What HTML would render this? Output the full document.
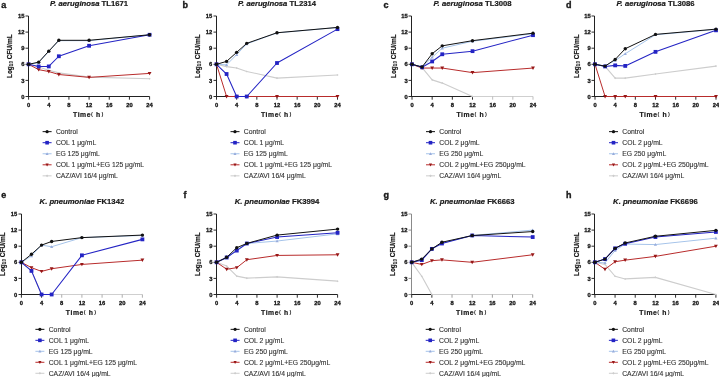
<!DOCTYPE html>
<html><head><meta charset="utf-8"><style>
html,body{margin:0;padding:0;background:#fff;}
body{width:719px;height:377px;overflow:hidden;}
svg{display:block;will-change:transform;}
text{font-family:"Liberation Sans",sans-serif;fill:#1a1a1a;}
.lab{font-size:9px;font-weight:bold;stroke:#111;stroke-width:0.35px;}
.ttl{font-size:7.7px;font-weight:bold;stroke:#111;stroke-width:0.2px;}
.tk{font-size:5.8px;font-weight:bold;stroke:#111;stroke-width:0.3px;}
.xl{font-size:6.8px;font-weight:bold;stroke:#111;stroke-width:0.2px;}
.xp{font-size:5.6px;font-weight:bold;}
.yl{font-size:6.5px;font-weight:bold;stroke:#111;stroke-width:0.2px;}
.lg{font-size:6.8px;fill:#333;stroke:#333;stroke-width:0.12px;}
</style></head><body>
<svg width="719" height="377" viewBox="0 0 719 377">
<g><text x="1.2" y="7.8" class="lab">a</text><text x="89.1" y="5.8" class="ttl" text-anchor="middle"><tspan font-style="italic">P. aeruginosa</tspan> TL1671</text><path d="M28.5 16V97" fill="none" stroke="#222" stroke-width="1.05"/><path d="M28 96.5H149.6" fill="none" stroke="#222" stroke-width="1.05"/><path d="M25.5 96.5H28.5" stroke="#222" stroke-width="0.95"/><text x="24.4" y="98.6" class="tk" text-anchor="end">0</text><path d="M25.5 80.4H28.5" stroke="#222" stroke-width="0.95"/><text x="24.4" y="82.5" class="tk" text-anchor="end">3</text><path d="M25.5 64.3H28.5" stroke="#222" stroke-width="0.95"/><text x="24.4" y="66.4" class="tk" text-anchor="end">6</text><path d="M25.5 48.2H28.5" stroke="#222" stroke-width="0.95"/><text x="24.4" y="50.3" class="tk" text-anchor="end">9</text><path d="M25.5 32.1H28.5" stroke="#222" stroke-width="0.95"/><text x="24.4" y="34.2" class="tk" text-anchor="end">12</text><path d="M25.5 16H28.5" stroke="#222" stroke-width="0.95"/><text x="24.4" y="18.1" class="tk" text-anchor="end">15</text><path d="M28.6 96.5V99.7" stroke="#222" stroke-width="0.95"/><text x="28.6" y="107.1" class="tk" text-anchor="middle">0</text><path d="M48.77 96.5V99.7" stroke="#222" stroke-width="0.95"/><text x="48.77" y="107.1" class="tk" text-anchor="middle">4</text><path d="M68.93 96.5V99.7" stroke="#222" stroke-width="0.95"/><text x="68.93" y="107.1" class="tk" text-anchor="middle">8</text><path d="M89.1 96.5V99.7" stroke="#222" stroke-width="0.95"/><text x="89.1" y="107.1" class="tk" text-anchor="middle">12</text><path d="M109.27 96.5V99.7" stroke="#222" stroke-width="0.95"/><text x="109.27" y="107.1" class="tk" text-anchor="middle">16</text><path d="M129.43 96.5V99.7" stroke="#222" stroke-width="0.95"/><text x="129.43" y="107.1" class="tk" text-anchor="middle">20</text><path d="M149.6 96.5V99.7" stroke="#222" stroke-width="0.95"/><text x="149.6" y="107.1" class="tk" text-anchor="middle">24</text><text x="73" y="116.5" class="xl" letter-spacing="0.6">Time</text><text x="91" y="116.1" class="xp">(</text><text x="96" y="116.5" class="xl">h</text><text x="101.5" y="116.1" class="xp">)</text><text transform="translate(12.3 56.2) rotate(-90)" class="yl" text-anchor="middle">Log<tspan font-size="4.6" dy="1.1" stroke-width="0.1">10</tspan><tspan dy="-1.1"> CFU/mL</tspan></text><path d="M28.6 64.3 L38.68 66.98 L48.77 70.2 L58.85 72.89 L89.1 77.18 L149.6 78.79" fill="none" stroke="#cdcdcd" stroke-width="1.15" stroke-linejoin="round"/><path d="M28.6 63.26L29.64 64.3L28.6 65.34L27.56 64.3Z" fill="#cdcdcd"/><path d="M38.68 65.94L39.72 66.98L38.68 68.02L37.64 66.98Z" fill="#cdcdcd"/><path d="M48.77 69.16L49.81 70.2L48.77 71.24L47.73 70.2Z" fill="#cdcdcd"/><path d="M58.85 71.85L59.89 72.89L58.85 73.93L57.81 72.89Z" fill="#cdcdcd"/><path d="M89.1 76.14L90.14 77.18L89.1 78.22L88.06 77.18Z" fill="#cdcdcd"/><path d="M149.6 77.75L150.64 78.79L149.6 79.83L148.56 78.79Z" fill="#cdcdcd"/><path d="M28.6 64.3 L38.68 69.66 L48.77 71.54 L58.85 74.5 L89.1 77.39 L149.6 73.42" fill="none" stroke="#b82c2c" stroke-width="1.0" stroke-linejoin="round"/><path d="M28.6 66.22L30.52 62.76L26.68 62.76Z" fill="#961616"/><path d="M38.68 71.58L40.6 68.13L36.76 68.13Z" fill="#961616"/><path d="M48.77 73.46L50.69 70.01L46.85 70.01Z" fill="#961616"/><path d="M58.85 76.42L60.77 72.96L56.93 72.96Z" fill="#961616"/><path d="M89.1 79.31L91.02 75.86L87.18 75.86Z" fill="#961616"/><path d="M149.6 75.34L151.52 71.89L147.68 71.89Z" fill="#961616"/><path d="M28.6 64.3 L38.68 62.69 L48.77 51.42 L58.85 40.68 L89.1 40.68 L149.6 34.78" fill="none" stroke="#a6c4ea" stroke-width="1.0" stroke-linejoin="round"/><path d="M28.6 62.7L30.2 65.58L27 65.58Z" fill="#98acdc"/><path d="M38.68 61.09L40.28 63.97L37.08 63.97Z" fill="#98acdc"/><path d="M48.77 49.82L50.37 52.7L47.17 52.7Z" fill="#98acdc"/><path d="M58.85 39.08L60.45 41.96L57.25 41.96Z" fill="#98acdc"/><path d="M89.1 39.08L90.7 41.96L87.5 41.96Z" fill="#98acdc"/><path d="M149.6 33.18L151.2 36.06L148 36.06Z" fill="#98acdc"/><path d="M28.6 64.3 L38.68 66.44 L48.77 66.44 L58.85 56.25 L89.1 45.78 L149.6 34.78" fill="none" stroke="#2424c4" stroke-width="1.05" stroke-linejoin="round"/><rect x="26.7" y="62.4" width="3.8" height="3.8" fill="#2424c4"/><rect x="36.78" y="64.54" width="3.8" height="3.8" fill="#2424c4"/><rect x="46.87" y="64.54" width="3.8" height="3.8" fill="#2424c4"/><rect x="56.95" y="54.35" width="3.8" height="3.8" fill="#2424c4"/><rect x="87.2" y="43.88" width="3.8" height="3.8" fill="#2424c4"/><rect x="147.7" y="32.88" width="3.8" height="3.8" fill="#2424c4"/><path d="M28.6 64.3 L38.68 62.15 L48.77 51.15 L58.85 40.31 L89.1 40.31 L149.6 34.78" fill="none" stroke="#111111" stroke-width="1.0" stroke-linejoin="round"/><circle cx="28.6" cy="64.3" r="1.7" fill="#111111"/><circle cx="38.68" cy="62.15" r="1.7" fill="#111111"/><circle cx="48.77" cy="51.15" r="1.7" fill="#111111"/><circle cx="58.85" cy="40.31" r="1.7" fill="#111111"/><circle cx="89.1" cy="40.31" r="1.7" fill="#111111"/><circle cx="149.6" cy="34.78" r="1.7" fill="#111111"/><path d="M42.6 131.65H51.6" stroke="#111111" stroke-width="1.0"/><circle cx="47.1" cy="131.65" r="1.61" fill="#111111"/><text x="55.9" y="133.95" class="lg">Control</text><path d="M42.6 142.7H51.6" stroke="#2424c4" stroke-width="1.0"/><rect x="45.3" y="140.9" width="3.61" height="3.61" fill="#2424c4"/><text x="55.9" y="145" class="lg">COL 1 μg/mL</text><path d="M42.6 153.75H51.6" stroke="#a6c4ea" stroke-width="1.0"/><path d="M47.1 152.23L48.62 154.97L45.58 154.97Z" fill="#98acdc"/><text x="55.9" y="156.05" class="lg">EG 125 μg/mL</text><path d="M42.6 164.8H51.6" stroke="#b82c2c" stroke-width="1.0"/><path d="M47.1 166.4L48.7 163.52L45.5 163.52Z" fill="#961616"/><text x="55.9" y="167.1" class="lg">COL 1 μg/mL+EG 125 μg/mL</text><path d="M42.6 175.85H51.6" stroke="#cdcdcd" stroke-width="1.0"/><path d="M47.1 174.55L48.4 175.85L47.1 177.15L45.8 175.85Z" fill="#cdcdcd"/><text x="55.9" y="178.15" class="lg">CAZ/AVI 16/4 μg/mL</text></g>
<g><text x="182.6" y="7.8" class="lab">b</text><text x="277" y="5.8" class="ttl" text-anchor="middle"><tspan font-style="italic">P. aeruginosa</tspan> TL2314</text><path d="M216.5 16V97" fill="none" stroke="#222" stroke-width="1.05"/><path d="M216 96.5H337.5" fill="none" stroke="#222" stroke-width="1.05"/><path d="M213.5 96.5H216.5" stroke="#222" stroke-width="0.95"/><text x="212.3" y="98.6" class="tk" text-anchor="end">0</text><path d="M213.5 80.4H216.5" stroke="#222" stroke-width="0.95"/><text x="212.3" y="82.5" class="tk" text-anchor="end">3</text><path d="M213.5 64.3H216.5" stroke="#222" stroke-width="0.95"/><text x="212.3" y="66.4" class="tk" text-anchor="end">6</text><path d="M213.5 48.2H216.5" stroke="#222" stroke-width="0.95"/><text x="212.3" y="50.3" class="tk" text-anchor="end">9</text><path d="M213.5 32.1H216.5" stroke="#222" stroke-width="0.95"/><text x="212.3" y="34.2" class="tk" text-anchor="end">12</text><path d="M213.5 16H216.5" stroke="#222" stroke-width="0.95"/><text x="212.3" y="18.1" class="tk" text-anchor="end">15</text><path d="M216.5 96.5V99.7" stroke="#222" stroke-width="0.95"/><text x="216.5" y="107.1" class="tk" text-anchor="middle">0</text><path d="M236.67 96.5V99.7" stroke="#222" stroke-width="0.95"/><text x="236.67" y="107.1" class="tk" text-anchor="middle">4</text><path d="M256.83 96.5V99.7" stroke="#222" stroke-width="0.95"/><text x="256.83" y="107.1" class="tk" text-anchor="middle">8</text><path d="M277 96.5V99.7" stroke="#222" stroke-width="0.95"/><text x="277" y="107.1" class="tk" text-anchor="middle">12</text><path d="M297.17 96.5V99.7" stroke="#222" stroke-width="0.95"/><text x="297.17" y="107.1" class="tk" text-anchor="middle">16</text><path d="M317.33 96.5V99.7" stroke="#222" stroke-width="0.95"/><text x="317.33" y="107.1" class="tk" text-anchor="middle">20</text><path d="M337.5 96.5V99.7" stroke="#222" stroke-width="0.95"/><text x="337.5" y="107.1" class="tk" text-anchor="middle">24</text><text x="260.9" y="116.5" class="xl" letter-spacing="0.6">Time</text><text x="278.9" y="116.1" class="xp">(</text><text x="283.9" y="116.5" class="xl">h</text><text x="289.4" y="116.1" class="xp">)</text><text transform="translate(200.2 56.2) rotate(-90)" class="yl" text-anchor="middle">Log<tspan font-size="4.6" dy="1.1" stroke-width="0.1">10</tspan><tspan dy="-1.1"> CFU/mL</tspan></text><path d="M216.5 64.3 L226.58 66.61 L236.67 68.05 L246.75 71.44 L277 78.09 L337.5 75.03" fill="none" stroke="#cdcdcd" stroke-width="1.15" stroke-linejoin="round"/><path d="M216.5 63.26L217.54 64.3L216.5 65.34L215.46 64.3Z" fill="#cdcdcd"/><path d="M226.58 65.57L227.62 66.61L226.58 67.65L225.54 66.61Z" fill="#cdcdcd"/><path d="M236.67 67.01L237.71 68.05L236.67 69.09L235.63 68.05Z" fill="#cdcdcd"/><path d="M246.75 70.4L247.79 71.44L246.75 72.48L245.71 71.44Z" fill="#cdcdcd"/><path d="M277 77.05L278.04 78.09L277 79.13L275.96 78.09Z" fill="#cdcdcd"/><path d="M337.5 73.99L338.54 75.03L337.5 76.07L336.46 75.03Z" fill="#cdcdcd"/><path d="M216.5 64.3 L226.58 96.5 L236.67 96.5 L246.75 96.5 L277 96.5 L337.5 96.5" fill="none" stroke="#b82c2c" stroke-width="1.0" stroke-linejoin="round"/><path d="M216.5 66.22L218.42 62.76L214.58 62.76Z" fill="#961616"/><path d="M226.58 98.42L228.5 94.96L224.66 94.96Z" fill="#961616"/><path d="M236.67 98.42L238.59 94.96L234.75 94.96Z" fill="#961616"/><path d="M246.75 98.42L248.67 94.96L244.83 94.96Z" fill="#961616"/><path d="M277 98.42L278.92 94.96L275.08 94.96Z" fill="#961616"/><path d="M337.5 98.42L339.42 94.96L335.58 94.96Z" fill="#961616"/><path d="M216.5 64.3 L226.58 64.83 L236.67 54.64 L246.75 43.9 L277 32.9 L337.5 27.53" fill="none" stroke="#a6c4ea" stroke-width="1.0" stroke-linejoin="round"/><path d="M216.5 62.7L218.1 65.58L214.9 65.58Z" fill="#98acdc"/><path d="M226.58 63.23L228.18 66.11L224.98 66.11Z" fill="#98acdc"/><path d="M236.67 53.04L238.27 55.92L235.07 55.92Z" fill="#98acdc"/><path d="M246.75 42.3L248.35 45.18L245.15 45.18Z" fill="#98acdc"/><path d="M277 31.3L278.6 34.18L275.4 34.18Z" fill="#98acdc"/><path d="M337.5 25.93L339.1 28.81L335.9 28.81Z" fill="#98acdc"/><path d="M216.5 64.3 L226.58 74.01 L236.67 96.5 L246.75 96.5 L277 63.01 L337.5 29.14" fill="none" stroke="#2424c4" stroke-width="1.05" stroke-linejoin="round"/><rect x="214.6" y="62.4" width="3.8" height="3.8" fill="#2424c4"/><rect x="224.68" y="72.11" width="3.8" height="3.8" fill="#2424c4"/><rect x="234.77" y="94.6" width="3.8" height="3.8" fill="#2424c4"/><rect x="244.85" y="94.6" width="3.8" height="3.8" fill="#2424c4"/><rect x="275.1" y="61.11" width="3.8" height="3.8" fill="#2424c4"/><rect x="335.6" y="27.24" width="3.8" height="3.8" fill="#2424c4"/><path d="M216.5 64.3 L226.58 61.4 L236.67 52.33 L246.75 43.37 L277 32.74 L337.5 27.43" fill="none" stroke="#111111" stroke-width="1.0" stroke-linejoin="round"/><circle cx="216.5" cy="64.3" r="1.7" fill="#111111"/><circle cx="226.58" cy="61.4" r="1.7" fill="#111111"/><circle cx="236.67" cy="52.33" r="1.7" fill="#111111"/><circle cx="246.75" cy="43.37" r="1.7" fill="#111111"/><circle cx="277" cy="32.74" r="1.7" fill="#111111"/><circle cx="337.5" cy="27.43" r="1.7" fill="#111111"/><path d="M230.5 131.65H239.5" stroke="#111111" stroke-width="1.0"/><circle cx="235" cy="131.65" r="1.61" fill="#111111"/><text x="243.8" y="133.95" class="lg">Control</text><path d="M230.5 142.7H239.5" stroke="#2424c4" stroke-width="1.0"/><rect x="233.19" y="140.9" width="3.61" height="3.61" fill="#2424c4"/><text x="243.8" y="145" class="lg">COL 1 μg/mL</text><path d="M230.5 153.75H239.5" stroke="#a6c4ea" stroke-width="1.0"/><path d="M235 152.23L236.52 154.97L233.48 154.97Z" fill="#98acdc"/><text x="243.8" y="156.05" class="lg">EG 125 μg/mL</text><path d="M230.5 164.8H239.5" stroke="#b82c2c" stroke-width="1.0"/><path d="M235 166.4L236.6 163.52L233.4 163.52Z" fill="#961616"/><text x="243.8" y="167.1" class="lg">COL 1 μg/mL+EG 125 μg/mL</text><path d="M230.5 175.85H239.5" stroke="#cdcdcd" stroke-width="1.0"/><path d="M235 174.55L236.3 175.85L235 177.15L233.7 175.85Z" fill="#cdcdcd"/><text x="243.8" y="178.15" class="lg">CAZ/AVI 16/4 μg/mL</text></g>
<g><text x="383.5" y="7.8" class="lab">c</text><text x="472.5" y="5.8" class="ttl" text-anchor="middle"><tspan font-style="italic">P. aeruginosa</tspan> TL3008</text><path d="M411.5 16V97" fill="none" stroke="#222" stroke-width="1.05"/><path d="M411 96.5H472.5" fill="none" stroke="#222" stroke-width="1.05"/><path d="M472.5 96.5H533" fill="none" stroke="#cfcfcf" stroke-width="1.05"/><path d="M408.5 96.5H411.5" stroke="#222" stroke-width="0.95"/><text x="407.8" y="98.6" class="tk" text-anchor="end">0</text><path d="M408.5 80.4H411.5" stroke="#222" stroke-width="0.95"/><text x="407.8" y="82.5" class="tk" text-anchor="end">3</text><path d="M408.5 64.3H411.5" stroke="#222" stroke-width="0.95"/><text x="407.8" y="66.4" class="tk" text-anchor="end">6</text><path d="M408.5 48.2H411.5" stroke="#222" stroke-width="0.95"/><text x="407.8" y="50.3" class="tk" text-anchor="end">9</text><path d="M408.5 32.1H411.5" stroke="#222" stroke-width="0.95"/><text x="407.8" y="34.2" class="tk" text-anchor="end">12</text><path d="M408.5 16H411.5" stroke="#222" stroke-width="0.95"/><text x="407.8" y="18.1" class="tk" text-anchor="end">15</text><path d="M412 96.5V99.7" stroke="#222" stroke-width="0.95"/><text x="412" y="107.1" class="tk" text-anchor="middle">0</text><path d="M432.17 96.5V99.7" stroke="#222" stroke-width="0.95"/><text x="432.17" y="107.1" class="tk" text-anchor="middle">4</text><path d="M452.33 96.5V99.7" stroke="#222" stroke-width="0.95"/><text x="452.33" y="107.1" class="tk" text-anchor="middle">8</text><path d="M472.5 96.5V99.7" stroke="#222" stroke-width="0.95"/><text x="472.5" y="107.1" class="tk" text-anchor="middle">12</text><path d="M492.67 96.5V99.7" stroke="#bbbbbb" stroke-width="0.95"/><text x="492.67" y="107.1" class="tk" text-anchor="middle">16</text><path d="M512.83 96.5V99.7" stroke="#bbbbbb" stroke-width="0.95"/><text x="512.83" y="107.1" class="tk" text-anchor="middle">20</text><path d="M533 96.5V99.7" stroke="#bbbbbb" stroke-width="0.95"/><text x="533" y="107.1" class="tk" text-anchor="middle">24</text><text x="456.4" y="116.5" class="xl" letter-spacing="0.6">Time</text><text x="474.4" y="116.1" class="xp">(</text><text x="479.4" y="116.5" class="xl">h</text><text x="484.9" y="116.1" class="xp">)</text><text transform="translate(395.7 56.2) rotate(-90)" class="yl" text-anchor="middle">Log<tspan font-size="4.6" dy="1.1" stroke-width="0.1">10</tspan><tspan dy="-1.1"> CFU/mL</tspan></text><path d="M412 64.3 L422.08 67.52 L432.17 79.86 L442.25 83.08 L472.5 96.5" fill="none" stroke="#cdcdcd" stroke-width="1.15" stroke-linejoin="round"/><path d="M412 63.26L413.04 64.3L412 65.34L410.96 64.3Z" fill="#cdcdcd"/><path d="M422.08 66.48L423.12 67.52L422.08 68.56L421.04 67.52Z" fill="#cdcdcd"/><path d="M432.17 78.82L433.21 79.86L432.17 80.9L431.13 79.86Z" fill="#cdcdcd"/><path d="M442.25 82.04L443.29 83.08L442.25 84.12L441.21 83.08Z" fill="#cdcdcd"/><path d="M472.5 95.46L473.54 96.5L472.5 97.54L471.46 96.5Z" fill="#cdcdcd"/><path d="M412 64.3 L422.08 68.05 L432.17 68.05 L442.25 68.05 L472.5 72.62 L533 68.05" fill="none" stroke="#b82c2c" stroke-width="1.0" stroke-linejoin="round"/><path d="M412 66.22L413.92 62.76L410.08 62.76Z" fill="#961616"/><path d="M422.08 69.97L424 66.52L420.16 66.52Z" fill="#961616"/><path d="M432.17 69.97L434.09 66.52L430.25 66.52Z" fill="#961616"/><path d="M442.25 69.97L444.17 66.52L440.33 66.52Z" fill="#961616"/><path d="M472.5 74.54L474.42 71.08L470.58 71.08Z" fill="#961616"/><path d="M533 69.97L534.92 66.52L531.08 66.52Z" fill="#961616"/><path d="M412 64.3 L422.08 66.98 L432.17 57.32 L442.25 48.2 L472.5 41.22 L533 33.71" fill="none" stroke="#a6c4ea" stroke-width="1.0" stroke-linejoin="round"/><path d="M412 62.7L413.6 65.58L410.4 65.58Z" fill="#98acdc"/><path d="M422.08 65.38L423.68 68.26L420.48 68.26Z" fill="#98acdc"/><path d="M432.17 55.72L433.77 58.6L430.57 58.6Z" fill="#98acdc"/><path d="M442.25 46.6L443.85 49.48L440.65 49.48Z" fill="#98acdc"/><path d="M472.5 39.62L474.1 42.5L470.9 42.5Z" fill="#98acdc"/><path d="M533 32.11L534.6 34.99L531.4 34.99Z" fill="#98acdc"/><path d="M412 64.3 L422.08 67.3 L432.17 61.45 L442.25 54.26 L472.5 51.15 L533 35.16" fill="none" stroke="#2424c4" stroke-width="1.05" stroke-linejoin="round"/><rect x="410.1" y="62.4" width="3.8" height="3.8" fill="#2424c4"/><rect x="420.18" y="65.4" width="3.8" height="3.8" fill="#2424c4"/><rect x="430.27" y="59.55" width="3.8" height="3.8" fill="#2424c4"/><rect x="440.35" y="52.36" width="3.8" height="3.8" fill="#2424c4"/><rect x="470.6" y="49.25" width="3.8" height="3.8" fill="#2424c4"/><rect x="531.1" y="33.26" width="3.8" height="3.8" fill="#2424c4"/><path d="M412 64.3 L422.08 66.98 L432.17 53.73 L442.25 45.84 L472.5 40.68 L533 33.17" fill="none" stroke="#111111" stroke-width="1.0" stroke-linejoin="round"/><circle cx="412" cy="64.3" r="1.7" fill="#111111"/><circle cx="422.08" cy="66.98" r="1.7" fill="#111111"/><circle cx="432.17" cy="53.73" r="1.7" fill="#111111"/><circle cx="442.25" cy="45.84" r="1.7" fill="#111111"/><circle cx="472.5" cy="40.68" r="1.7" fill="#111111"/><circle cx="533" cy="33.17" r="1.7" fill="#111111"/><path d="M426 131.65H435" stroke="#111111" stroke-width="1.0"/><circle cx="430.5" cy="131.65" r="1.61" fill="#111111"/><text x="439.3" y="133.95" class="lg">Control</text><path d="M426 142.7H435" stroke="#2424c4" stroke-width="1.0"/><rect x="428.69" y="140.9" width="3.61" height="3.61" fill="#2424c4"/><text x="439.3" y="145" class="lg">COL 2 μg/mL</text><path d="M426 153.75H435" stroke="#a6c4ea" stroke-width="1.0"/><path d="M430.5 152.23L432.02 154.97L428.98 154.97Z" fill="#98acdc"/><text x="439.3" y="156.05" class="lg">EG 250 μg/mL</text><path d="M426 164.8H435" stroke="#b82c2c" stroke-width="1.0"/><path d="M430.5 166.4L432.1 163.52L428.9 163.52Z" fill="#961616"/><text x="439.3" y="167.1" class="lg">COL 2 μg/mL+EG 250μg/mL</text><path d="M426 175.85H435" stroke="#cdcdcd" stroke-width="1.0"/><path d="M430.5 174.55L431.8 175.85L430.5 177.15L429.2 175.85Z" fill="#cdcdcd"/><text x="439.3" y="178.15" class="lg">CAZ/AVI 16/4 μg/mL</text></g>
<g><text x="566" y="7.8" class="lab">d</text><text x="655.5" y="5.8" class="ttl" text-anchor="middle"><tspan font-style="italic">P. aeruginosa</tspan> TL3086</text><path d="M594.5 16V97" fill="none" stroke="#222" stroke-width="1.05"/><path d="M594 96.5H716" fill="none" stroke="#222" stroke-width="1.05"/><path d="M591.5 96.5H594.5" stroke="#222" stroke-width="0.95"/><text x="590.8" y="98.6" class="tk" text-anchor="end">0</text><path d="M591.5 80.4H594.5" stroke="#222" stroke-width="0.95"/><text x="590.8" y="82.5" class="tk" text-anchor="end">3</text><path d="M591.5 64.3H594.5" stroke="#222" stroke-width="0.95"/><text x="590.8" y="66.4" class="tk" text-anchor="end">6</text><path d="M591.5 48.2H594.5" stroke="#222" stroke-width="0.95"/><text x="590.8" y="50.3" class="tk" text-anchor="end">9</text><path d="M591.5 32.1H594.5" stroke="#222" stroke-width="0.95"/><text x="590.8" y="34.2" class="tk" text-anchor="end">12</text><path d="M591.5 16H594.5" stroke="#222" stroke-width="0.95"/><text x="590.8" y="18.1" class="tk" text-anchor="end">15</text><path d="M595 96.5V99.7" stroke="#222" stroke-width="0.95"/><text x="595" y="107.1" class="tk" text-anchor="middle">0</text><path d="M615.17 96.5V99.7" stroke="#222" stroke-width="0.95"/><text x="615.17" y="107.1" class="tk" text-anchor="middle">4</text><path d="M635.33 96.5V99.7" stroke="#222" stroke-width="0.95"/><text x="635.33" y="107.1" class="tk" text-anchor="middle">8</text><path d="M655.5 96.5V99.7" stroke="#222" stroke-width="0.95"/><text x="655.5" y="107.1" class="tk" text-anchor="middle">12</text><path d="M675.67 96.5V99.7" stroke="#222" stroke-width="0.95"/><text x="675.67" y="107.1" class="tk" text-anchor="middle">16</text><path d="M695.83 96.5V99.7" stroke="#222" stroke-width="0.95"/><text x="695.83" y="107.1" class="tk" text-anchor="middle">20</text><path d="M716 96.5V99.7" stroke="#222" stroke-width="0.95"/><text x="716" y="107.1" class="tk" text-anchor="middle">24</text><text x="639.4" y="116.5" class="xl" letter-spacing="0.6">Time</text><text x="657.4" y="116.1" class="xp">(</text><text x="662.4" y="116.5" class="xl">h</text><text x="667.9" y="116.1" class="xp">)</text><text transform="translate(578.7 56.2) rotate(-90)" class="yl" text-anchor="middle">Log<tspan font-size="4.6" dy="1.1" stroke-width="0.1">10</tspan><tspan dy="-1.1"> CFU/mL</tspan></text><path d="M595 64.3 L605.08 66.44 L615.17 78.09 L625.25 78.09 L655.5 74.01 L716 66.12" fill="none" stroke="#cdcdcd" stroke-width="1.15" stroke-linejoin="round"/><path d="M595 63.26L596.04 64.3L595 65.34L593.96 64.3Z" fill="#cdcdcd"/><path d="M605.08 65.4L606.12 66.44L605.08 67.48L604.04 66.44Z" fill="#cdcdcd"/><path d="M615.17 77.05L616.21 78.09L615.17 79.13L614.13 78.09Z" fill="#cdcdcd"/><path d="M625.25 77.05L626.29 78.09L625.25 79.13L624.21 78.09Z" fill="#cdcdcd"/><path d="M655.5 72.97L656.54 74.01L655.5 75.05L654.46 74.01Z" fill="#cdcdcd"/><path d="M716 65.08L717.04 66.12L716 67.16L714.96 66.12Z" fill="#cdcdcd"/><path d="M595 64.3 L605.08 96.5 L615.17 96.5 L625.25 96.5 L655.5 96.5 L716 96.5" fill="none" stroke="#b82c2c" stroke-width="1.0" stroke-linejoin="round"/><path d="M595 66.22L596.92 62.76L593.08 62.76Z" fill="#961616"/><path d="M605.08 98.42L607 94.96L603.16 94.96Z" fill="#961616"/><path d="M615.17 98.42L617.09 94.96L613.25 94.96Z" fill="#961616"/><path d="M625.25 98.42L627.17 94.96L623.33 94.96Z" fill="#961616"/><path d="M655.5 98.42L657.42 94.96L653.58 94.96Z" fill="#961616"/><path d="M716 98.42L717.92 94.96L714.08 94.96Z" fill="#961616"/><path d="M595 64.3 L605.08 65.91 L615.17 60.54 L625.25 53.73 L655.5 34.78 L716 29.41" fill="none" stroke="#a6c4ea" stroke-width="1.0" stroke-linejoin="round"/><path d="M595 62.7L596.6 65.58L593.4 65.58Z" fill="#98acdc"/><path d="M605.08 64.31L606.68 67.19L603.48 67.19Z" fill="#98acdc"/><path d="M615.17 58.94L616.77 61.82L613.57 61.82Z" fill="#98acdc"/><path d="M625.25 52.13L626.85 55.01L623.65 55.01Z" fill="#98acdc"/><path d="M655.5 33.18L657.1 36.06L653.9 36.06Z" fill="#98acdc"/><path d="M716 27.81L717.6 30.69L714.4 30.69Z" fill="#98acdc"/><path d="M595 64.3 L605.08 66.44 L615.17 65.37 L625.25 65.91 L655.5 51.85 L716 30.32" fill="none" stroke="#2424c4" stroke-width="1.05" stroke-linejoin="round"/><rect x="593.1" y="62.4" width="3.8" height="3.8" fill="#2424c4"/><rect x="603.18" y="64.54" width="3.8" height="3.8" fill="#2424c4"/><rect x="613.27" y="63.47" width="3.8" height="3.8" fill="#2424c4"/><rect x="623.35" y="64.01" width="3.8" height="3.8" fill="#2424c4"/><rect x="653.6" y="49.95" width="3.8" height="3.8" fill="#2424c4"/><rect x="714.1" y="28.42" width="3.8" height="3.8" fill="#2424c4"/><path d="M595 64.3 L605.08 66.12 L615.17 59.47 L625.25 48.73 L655.5 34.4 L716 29.14" fill="none" stroke="#111111" stroke-width="1.0" stroke-linejoin="round"/><circle cx="595" cy="64.3" r="1.7" fill="#111111"/><circle cx="605.08" cy="66.12" r="1.7" fill="#111111"/><circle cx="615.17" cy="59.47" r="1.7" fill="#111111"/><circle cx="625.25" cy="48.73" r="1.7" fill="#111111"/><circle cx="655.5" cy="34.4" r="1.7" fill="#111111"/><circle cx="716" cy="29.14" r="1.7" fill="#111111"/><path d="M609 131.65H618" stroke="#111111" stroke-width="1.0"/><circle cx="613.5" cy="131.65" r="1.61" fill="#111111"/><text x="622.3" y="133.95" class="lg">Control</text><path d="M609 142.7H618" stroke="#2424c4" stroke-width="1.0"/><rect x="611.7" y="140.9" width="3.61" height="3.61" fill="#2424c4"/><text x="622.3" y="145" class="lg">COL 2 μg/mL</text><path d="M609 153.75H618" stroke="#a6c4ea" stroke-width="1.0"/><path d="M613.5 152.23L615.02 154.97L611.98 154.97Z" fill="#98acdc"/><text x="622.3" y="156.05" class="lg">EG 250 μg/mL</text><path d="M609 164.8H618" stroke="#b82c2c" stroke-width="1.0"/><path d="M613.5 166.4L615.1 163.52L611.9 163.52Z" fill="#961616"/><text x="622.3" y="167.1" class="lg">COL 2 μg/mL+EG 250μg/mL</text><path d="M609 175.85H618" stroke="#cdcdcd" stroke-width="1.0"/><path d="M613.5 174.55L614.8 175.85L613.5 177.15L612.2 175.85Z" fill="#cdcdcd"/><text x="622.3" y="178.15" class="lg">CAZ/AVI 16/4 μg/mL</text></g>
<g><text x="1.2" y="197.8" class="lab">e</text><text x="81.9" y="203.8" class="ttl" text-anchor="middle"><tspan font-style="italic">K. pneumoniae</tspan> FK1342</text><path d="M21.5 214V295" fill="none" stroke="#222" stroke-width="1.05"/><path d="M21 294.5H52.66" fill="none" stroke="#222" stroke-width="1.05"/><path d="M52.66 294.5H142.4" fill="none" stroke="#cfcfcf" stroke-width="1.05"/><path d="M18.5 294.5H21.5" stroke="#222" stroke-width="0.95"/><text x="17.2" y="296.6" class="tk" text-anchor="end">0</text><path d="M18.5 278.4H21.5" stroke="#222" stroke-width="0.95"/><text x="17.2" y="280.5" class="tk" text-anchor="end">3</text><path d="M18.5 262.3H21.5" stroke="#222" stroke-width="0.95"/><text x="17.2" y="264.4" class="tk" text-anchor="end">6</text><path d="M18.5 246.2H21.5" stroke="#222" stroke-width="0.95"/><text x="17.2" y="248.3" class="tk" text-anchor="end">9</text><path d="M18.5 230.1H21.5" stroke="#222" stroke-width="0.95"/><text x="17.2" y="232.2" class="tk" text-anchor="end">12</text><path d="M18.5 214H21.5" stroke="#222" stroke-width="0.95"/><text x="17.2" y="216.09" class="tk" text-anchor="end">15</text><path d="M21.4 294.5V297.7" stroke="#222" stroke-width="0.95"/><text x="21.4" y="304.9" class="tk" text-anchor="middle">0</text><path d="M41.57 294.5V297.7" stroke="#222" stroke-width="0.95"/><text x="41.57" y="304.9" class="tk" text-anchor="middle">4</text><path d="M61.73 294.5V297.7" stroke="#aaaaaa" stroke-width="0.95"/><text x="61.73" y="304.9" class="tk" text-anchor="middle">8</text><path d="M81.9 294.5V297.7" stroke="#aaaaaa" stroke-width="0.95"/><text x="81.9" y="304.9" class="tk" text-anchor="middle">12</text><path d="M102.07 294.5V297.7" stroke="#aaaaaa" stroke-width="0.95"/><text x="102.07" y="304.9" class="tk" text-anchor="middle">16</text><path d="M122.23 294.5V297.7" stroke="#aaaaaa" stroke-width="0.95"/><text x="122.23" y="304.9" class="tk" text-anchor="middle">20</text><path d="M142.4 294.5V297.7" stroke="#aaaaaa" stroke-width="0.95"/><text x="142.4" y="304.9" class="tk" text-anchor="middle">24</text><text x="65.8" y="314.5" class="xl" letter-spacing="0.6">Time</text><text x="83.8" y="314.1" class="xp">(</text><text x="88.8" y="314.5" class="xl">h</text><text x="94.3" y="314.1" class="xp">)</text><text transform="translate(5.1 254.2) rotate(-90)" class="yl" text-anchor="middle">Log<tspan font-size="4.6" dy="1.1" stroke-width="0.1">10</tspan><tspan dy="-1.1"> CFU/mL</tspan></text><path d="M21.4 262.3 L31.48 270.89 L41.57 294.5 L51.65 294.5" fill="none" stroke="#cdcdcd" stroke-width="1.15" stroke-linejoin="round"/><path d="M21.4 261.26L22.44 262.3L21.4 263.34L20.36 262.3Z" fill="#cdcdcd"/><path d="M31.48 269.85L32.52 270.89L31.48 271.93L30.44 270.89Z" fill="#cdcdcd"/><path d="M41.57 293.46L42.61 294.5L41.57 295.54L40.53 294.5Z" fill="#cdcdcd"/><path d="M51.65 293.46L52.69 294.5L51.65 295.54L50.61 294.5Z" fill="#cdcdcd"/><path d="M21.4 262.3 L31.48 267.67 L41.57 271.42 L51.65 268.74 L81.9 264.44 L142.4 260.15" fill="none" stroke="#b82c2c" stroke-width="1.0" stroke-linejoin="round"/><path d="M21.4 264.22L23.32 260.76L19.48 260.76Z" fill="#961616"/><path d="M31.48 269.59L33.4 266.13L29.56 266.13Z" fill="#961616"/><path d="M41.57 273.34L43.49 269.89L39.65 269.89Z" fill="#961616"/><path d="M51.65 270.66L53.57 267.2L49.73 267.2Z" fill="#961616"/><path d="M81.9 266.36L83.82 262.91L79.98 262.91Z" fill="#961616"/><path d="M142.4 262.07L144.32 258.62L140.48 258.62Z" fill="#961616"/><path d="M21.4 262.3 L31.48 255.86 L41.57 245.12 L51.65 246.73 L81.9 237.61 L142.4 235.46" fill="none" stroke="#a6c4ea" stroke-width="1.0" stroke-linejoin="round"/><path d="M21.4 260.7L23 263.58L19.8 263.58Z" fill="#98acdc"/><path d="M31.48 254.26L33.08 257.14L29.88 257.14Z" fill="#98acdc"/><path d="M41.57 243.52L43.17 246.4L39.97 246.4Z" fill="#98acdc"/><path d="M51.65 245.13L53.25 248.01L50.05 248.01Z" fill="#98acdc"/><path d="M81.9 236.01L83.5 238.89L80.3 238.89Z" fill="#98acdc"/><path d="M142.4 233.86L144 236.74L140.8 236.74Z" fill="#98acdc"/><path d="M21.4 262.3 L31.48 270.89 L41.57 294.5 L51.65 294.5 L81.9 255.32 L142.4 239.38" fill="none" stroke="#2424c4" stroke-width="1.05" stroke-linejoin="round"/><rect x="19.5" y="260.4" width="3.8" height="3.8" fill="#2424c4"/><rect x="29.58" y="268.99" width="3.8" height="3.8" fill="#2424c4"/><rect x="39.67" y="292.6" width="3.8" height="3.8" fill="#2424c4"/><rect x="49.75" y="292.6" width="3.8" height="3.8" fill="#2424c4"/><rect x="80" y="253.42" width="3.8" height="3.8" fill="#2424c4"/><rect x="140.5" y="237.48" width="3.8" height="3.8" fill="#2424c4"/><path d="M21.4 262.3 L31.48 254.25 L41.57 245.12 L51.65 241.47 L81.9 237.61 L142.4 235.09" fill="none" stroke="#111111" stroke-width="1.0" stroke-linejoin="round"/><circle cx="21.4" cy="262.3" r="1.7" fill="#111111"/><circle cx="31.48" cy="254.25" r="1.7" fill="#111111"/><circle cx="41.57" cy="245.12" r="1.7" fill="#111111"/><circle cx="51.65" cy="241.47" r="1.7" fill="#111111"/><circle cx="81.9" cy="237.61" r="1.7" fill="#111111"/><circle cx="142.4" cy="235.09" r="1.7" fill="#111111"/><path d="M35.4 329.35H44.4" stroke="#111111" stroke-width="1.0"/><circle cx="39.9" cy="329.35" r="1.61" fill="#111111"/><text x="48.7" y="331.65" class="lg">Control</text><path d="M35.4 340.33H44.4" stroke="#2424c4" stroke-width="1.0"/><rect x="38.09" y="338.53" width="3.61" height="3.61" fill="#2424c4"/><text x="48.7" y="342.63" class="lg">COL 1 μg/mL</text><path d="M35.4 351.31H44.4" stroke="#a6c4ea" stroke-width="1.0"/><path d="M39.9 349.79L41.42 352.53L38.38 352.53Z" fill="#98acdc"/><text x="48.7" y="353.61" class="lg">EG 125 μg/mL</text><path d="M35.4 362.29H44.4" stroke="#b82c2c" stroke-width="1.0"/><path d="M39.9 363.89L41.5 361.01L38.3 361.01Z" fill="#961616"/><text x="48.7" y="364.59" class="lg">COL 1 μg/mL+EG 125 μg/mL</text><path d="M35.4 373.27H44.4" stroke="#cdcdcd" stroke-width="1.0"/><path d="M39.9 371.97L41.2 373.27L39.9 374.57L38.6 373.27Z" fill="#cdcdcd"/><text x="48.7" y="375.57" class="lg">CAZ/AVI 16/4 μg/mL</text></g>
<g><text x="183.5" y="197.8" class="lab">f</text><text x="277.1" y="203.8" class="ttl" text-anchor="middle"><tspan font-style="italic">K. pneumoniae</tspan> FK3994</text><path d="M216.5 214V295" fill="none" stroke="#222" stroke-width="1.05"/><path d="M216 294.5H337.6" fill="none" stroke="#222" stroke-width="1.05"/><path d="M213.5 294.5H216.5" stroke="#222" stroke-width="0.95"/><text x="212.4" y="296.6" class="tk" text-anchor="end">0</text><path d="M213.5 278.4H216.5" stroke="#222" stroke-width="0.95"/><text x="212.4" y="280.5" class="tk" text-anchor="end">3</text><path d="M213.5 262.3H216.5" stroke="#222" stroke-width="0.95"/><text x="212.4" y="264.4" class="tk" text-anchor="end">6</text><path d="M213.5 246.2H216.5" stroke="#222" stroke-width="0.95"/><text x="212.4" y="248.3" class="tk" text-anchor="end">9</text><path d="M213.5 230.1H216.5" stroke="#222" stroke-width="0.95"/><text x="212.4" y="232.2" class="tk" text-anchor="end">12</text><path d="M213.5 214H216.5" stroke="#222" stroke-width="0.95"/><text x="212.4" y="216.09" class="tk" text-anchor="end">15</text><path d="M216.6 294.5V297.7" stroke="#222" stroke-width="0.95"/><text x="216.6" y="304.9" class="tk" text-anchor="middle">0</text><path d="M236.77 294.5V297.7" stroke="#222" stroke-width="0.95"/><text x="236.77" y="304.9" class="tk" text-anchor="middle">4</text><path d="M256.93 294.5V297.7" stroke="#222" stroke-width="0.95"/><text x="256.93" y="304.9" class="tk" text-anchor="middle">8</text><path d="M277.1 294.5V297.7" stroke="#222" stroke-width="0.95"/><text x="277.1" y="304.9" class="tk" text-anchor="middle">12</text><path d="M297.27 294.5V297.7" stroke="#222" stroke-width="0.95"/><text x="297.27" y="304.9" class="tk" text-anchor="middle">16</text><path d="M317.43 294.5V297.7" stroke="#222" stroke-width="0.95"/><text x="317.43" y="304.9" class="tk" text-anchor="middle">20</text><path d="M337.6 294.5V297.7" stroke="#222" stroke-width="0.95"/><text x="337.6" y="304.9" class="tk" text-anchor="middle">24</text><text x="261" y="314.5" class="xl" letter-spacing="0.6">Time</text><text x="279" y="314.1" class="xp">(</text><text x="284" y="314.5" class="xl">h</text><text x="289.5" y="314.1" class="xp">)</text><text transform="translate(200.3 254.2) rotate(-90)" class="yl" text-anchor="middle">Log<tspan font-size="4.6" dy="1.1" stroke-width="0.1">10</tspan><tspan dy="-1.1"> CFU/mL</tspan></text><path d="M216.6 262.3 L226.68 266.05 L236.77 276.09 L246.85 278.13 L277.1 276.9 L337.6 281.19" fill="none" stroke="#cdcdcd" stroke-width="1.15" stroke-linejoin="round"/><path d="M216.6 261.26L217.64 262.3L216.6 263.34L215.56 262.3Z" fill="#cdcdcd"/><path d="M226.68 265.01L227.72 266.05L226.68 267.09L225.64 266.05Z" fill="#cdcdcd"/><path d="M236.77 275.05L237.81 276.09L236.77 277.13L235.73 276.09Z" fill="#cdcdcd"/><path d="M246.85 277.09L247.89 278.13L246.85 279.17L245.81 278.13Z" fill="#cdcdcd"/><path d="M277.1 275.86L278.14 276.9L277.1 277.94L276.06 276.9Z" fill="#cdcdcd"/><path d="M337.6 280.15L338.64 281.19L337.6 282.23L336.56 281.19Z" fill="#cdcdcd"/><path d="M216.6 262.3 L226.68 269.28 L236.77 267.67 L246.85 259.72 L277.1 255.43 L337.6 254.78" fill="none" stroke="#b82c2c" stroke-width="1.0" stroke-linejoin="round"/><path d="M216.6 264.22L218.52 260.76L214.68 260.76Z" fill="#961616"/><path d="M226.68 271.2L228.6 267.74L224.76 267.74Z" fill="#961616"/><path d="M236.77 269.59L238.69 266.13L234.85 266.13Z" fill="#961616"/><path d="M246.85 261.64L248.77 258.19L244.93 258.19Z" fill="#961616"/><path d="M277.1 257.35L279.02 253.89L275.18 253.89Z" fill="#961616"/><path d="M337.6 256.7L339.52 253.25L335.68 253.25Z" fill="#961616"/><path d="M216.6 262.3 L226.68 258 L236.77 249.95 L246.85 243.51 L277.1 241.04 L337.6 233.85" fill="none" stroke="#a6c4ea" stroke-width="1.0" stroke-linejoin="round"/><path d="M216.6 260.7L218.2 263.58L215 263.58Z" fill="#98acdc"/><path d="M226.68 256.4L228.28 259.28L225.08 259.28Z" fill="#98acdc"/><path d="M236.77 248.35L238.37 251.23L235.17 251.23Z" fill="#98acdc"/><path d="M246.85 241.91L248.45 244.79L245.25 244.79Z" fill="#98acdc"/><path d="M277.1 239.44L278.7 242.32L275.5 242.32Z" fill="#98acdc"/><path d="M337.6 232.25L339.2 235.13L336 235.13Z" fill="#98acdc"/><path d="M216.6 262.3 L226.68 257.47 L236.77 250.6 L246.85 243.51 L277.1 237.07 L337.6 232.78" fill="none" stroke="#2424c4" stroke-width="1.05" stroke-linejoin="round"/><rect x="214.7" y="260.4" width="3.8" height="3.8" fill="#2424c4"/><rect x="224.78" y="255.57" width="3.8" height="3.8" fill="#2424c4"/><rect x="234.87" y="248.7" width="3.8" height="3.8" fill="#2424c4"/><rect x="244.95" y="241.61" width="3.8" height="3.8" fill="#2424c4"/><rect x="275.2" y="235.17" width="3.8" height="3.8" fill="#2424c4"/><rect x="335.7" y="230.88" width="3.8" height="3.8" fill="#2424c4"/><path d="M216.6 262.3 L226.68 257.31 L236.77 247.7 L246.85 243.41 L277.1 235.09 L337.6 229.08" fill="none" stroke="#111111" stroke-width="1.0" stroke-linejoin="round"/><circle cx="216.6" cy="262.3" r="1.7" fill="#111111"/><circle cx="226.68" cy="257.31" r="1.7" fill="#111111"/><circle cx="236.77" cy="247.7" r="1.7" fill="#111111"/><circle cx="246.85" cy="243.41" r="1.7" fill="#111111"/><circle cx="277.1" cy="235.09" r="1.7" fill="#111111"/><circle cx="337.6" cy="229.08" r="1.7" fill="#111111"/><path d="M230.6 329.35H239.6" stroke="#111111" stroke-width="1.0"/><circle cx="235.1" cy="329.35" r="1.61" fill="#111111"/><text x="243.9" y="331.65" class="lg">Control</text><path d="M230.6 340.33H239.6" stroke="#2424c4" stroke-width="1.0"/><rect x="233.29" y="338.53" width="3.61" height="3.61" fill="#2424c4"/><text x="243.9" y="342.63" class="lg">COL 2 μg/mL</text><path d="M230.6 351.31H239.6" stroke="#a6c4ea" stroke-width="1.0"/><path d="M235.1 349.79L236.62 352.53L233.58 352.53Z" fill="#98acdc"/><text x="243.9" y="353.61" class="lg">EG 250 μg/mL</text><path d="M230.6 362.29H239.6" stroke="#b82c2c" stroke-width="1.0"/><path d="M235.1 363.89L236.7 361.01L233.5 361.01Z" fill="#961616"/><text x="243.9" y="364.59" class="lg">COL 2 μg/mL+EG 250μg/mL</text><path d="M230.6 373.27H239.6" stroke="#cdcdcd" stroke-width="1.0"/><path d="M235.1 371.97L236.4 373.27L235.1 374.57L233.8 373.27Z" fill="#cdcdcd"/><text x="243.9" y="375.57" class="lg">CAZ/AVI 16/4 μg/mL</text></g>
<g><text x="383.5" y="197.6" class="lab">g</text><text x="472.2" y="203.8" class="ttl" text-anchor="middle"><tspan font-style="italic">K. pneumoniae</tspan> FK6663</text><path d="M411.5 214V295" fill="none" stroke="#8a8a8a" stroke-width="1.05"/><path d="M411 294.5H431.87" fill="none" stroke="#222" stroke-width="1.05"/><path d="M431.87 294.5H532.7" fill="none" stroke="#cfcfcf" stroke-width="1.05"/><path d="M408.5 294.5H411.5" stroke="#8a8a8a" stroke-width="0.95"/><text x="407.5" y="296.6" class="tk" text-anchor="end">0</text><path d="M408.5 278.4H411.5" stroke="#8a8a8a" stroke-width="0.95"/><text x="407.5" y="280.5" class="tk" text-anchor="end">3</text><path d="M408.5 262.3H411.5" stroke="#8a8a8a" stroke-width="0.95"/><text x="407.5" y="264.4" class="tk" text-anchor="end">6</text><path d="M408.5 246.2H411.5" stroke="#8a8a8a" stroke-width="0.95"/><text x="407.5" y="248.3" class="tk" text-anchor="end">9</text><path d="M408.5 230.1H411.5" stroke="#8a8a8a" stroke-width="0.95"/><text x="407.5" y="232.2" class="tk" text-anchor="end">12</text><path d="M408.5 214H411.5" stroke="#8a8a8a" stroke-width="0.95"/><text x="407.5" y="216.09" class="tk" text-anchor="end">15</text><path d="M411.7 294.5V297.7" stroke="#222" stroke-width="0.95"/><text x="411.7" y="304.9" class="tk" text-anchor="middle">0</text><path d="M431.87 294.5V297.7" stroke="#222" stroke-width="0.95"/><text x="431.87" y="304.9" class="tk" text-anchor="middle">4</text><path d="M452.03 294.5V297.7" stroke="#999999" stroke-width="0.95"/><text x="452.03" y="304.9" class="tk" text-anchor="middle">8</text><path d="M472.2 294.5V297.7" stroke="#999999" stroke-width="0.95"/><text x="472.2" y="304.9" class="tk" text-anchor="middle">12</text><path d="M492.37 294.5V297.7" stroke="#999999" stroke-width="0.95"/><text x="492.37" y="304.9" class="tk" text-anchor="middle">16</text><path d="M512.53 294.5V297.7" stroke="#999999" stroke-width="0.95"/><text x="512.53" y="304.9" class="tk" text-anchor="middle">20</text><path d="M532.7 294.5V297.7" stroke="#999999" stroke-width="0.95"/><text x="532.7" y="304.9" class="tk" text-anchor="middle">24</text><text x="456.1" y="314.5" class="xl" letter-spacing="0.6">Time</text><text x="474.1" y="314.1" class="xp">(</text><text x="479.1" y="314.5" class="xl">h</text><text x="484.6" y="314.1" class="xp">)</text><text transform="translate(395.4 254.2) rotate(-90)" class="yl" text-anchor="middle">Log<tspan font-size="4.6" dy="1.1" stroke-width="0.1">10</tspan><tspan dy="-1.1"> CFU/mL</tspan></text><path d="M411.7 262.3 L421.78 276.25 L431.87 294.5" fill="none" stroke="#cdcdcd" stroke-width="1.15" stroke-linejoin="round"/><path d="M411.7 261.26L412.74 262.3L411.7 263.34L410.66 262.3Z" fill="#cdcdcd"/><path d="M421.78 275.21L422.82 276.25L421.78 277.29L420.74 276.25Z" fill="#cdcdcd"/><path d="M431.87 293.46L432.91 294.5L431.87 295.54L430.83 294.5Z" fill="#cdcdcd"/><path d="M411.7 262.3 L421.78 264.44 L431.87 260.69 L441.95 259.88 L472.2 262.3 L532.7 254.78" fill="none" stroke="#b82c2c" stroke-width="1.0" stroke-linejoin="round"/><path d="M411.7 264.22L413.62 260.76L409.78 260.76Z" fill="#961616"/><path d="M421.78 266.36L423.7 262.91L419.86 262.91Z" fill="#961616"/><path d="M431.87 262.61L433.79 259.15L429.95 259.15Z" fill="#961616"/><path d="M441.95 261.8L443.87 258.35L440.03 258.35Z" fill="#961616"/><path d="M472.2 264.22L474.12 260.76L470.28 260.76Z" fill="#961616"/><path d="M532.7 256.7L534.62 253.25L530.78 253.25Z" fill="#961616"/><path d="M411.7 262.3 L421.78 259.61 L431.87 248.88 L441.95 242.98 L472.2 235.46 L532.7 230.1" fill="none" stroke="#a6c4ea" stroke-width="1.0" stroke-linejoin="round"/><path d="M411.7 260.7L413.3 263.58L410.1 263.58Z" fill="#98acdc"/><path d="M421.78 258.01L423.38 260.89L420.18 260.89Z" fill="#98acdc"/><path d="M431.87 247.28L433.47 250.16L430.27 250.16Z" fill="#98acdc"/><path d="M441.95 241.38L443.55 244.26L440.35 244.26Z" fill="#98acdc"/><path d="M472.2 233.86L473.8 236.74L470.6 236.74Z" fill="#98acdc"/><path d="M532.7 228.5L534.3 231.38L531.1 231.38Z" fill="#98acdc"/><path d="M411.7 262.3 L421.78 260.15 L431.87 248.88 L441.95 243.51 L472.2 235.46 L532.7 237.07" fill="none" stroke="#2424c4" stroke-width="1.05" stroke-linejoin="round"/><rect x="409.8" y="260.4" width="3.8" height="3.8" fill="#2424c4"/><rect x="419.88" y="258.25" width="3.8" height="3.8" fill="#2424c4"/><rect x="429.97" y="246.98" width="3.8" height="3.8" fill="#2424c4"/><rect x="440.05" y="241.61" width="3.8" height="3.8" fill="#2424c4"/><rect x="470.3" y="233.56" width="3.8" height="3.8" fill="#2424c4"/><rect x="530.8" y="235.17" width="3.8" height="3.8" fill="#2424c4"/><path d="M411.7 262.3 L421.78 259.08 L431.87 248.88 L441.95 242.23 L472.2 235.57 L532.7 231.55" fill="none" stroke="#111111" stroke-width="1.0" stroke-linejoin="round"/><circle cx="411.7" cy="262.3" r="1.7" fill="#111111"/><circle cx="421.78" cy="259.08" r="1.7" fill="#111111"/><circle cx="431.87" cy="248.88" r="1.7" fill="#111111"/><circle cx="441.95" cy="242.23" r="1.7" fill="#111111"/><circle cx="472.2" cy="235.57" r="1.7" fill="#111111"/><circle cx="532.7" cy="231.55" r="1.7" fill="#111111"/><path d="M425.7 329.35H434.7" stroke="#111111" stroke-width="1.0"/><circle cx="430.2" cy="329.35" r="1.61" fill="#111111"/><text x="439" y="331.65" class="lg">Control</text><path d="M425.7 340.33H434.7" stroke="#2424c4" stroke-width="1.0"/><rect x="428.39" y="338.53" width="3.61" height="3.61" fill="#2424c4"/><text x="439" y="342.63" class="lg">COL 2 μg/mL</text><path d="M425.7 351.31H434.7" stroke="#a6c4ea" stroke-width="1.0"/><path d="M430.2 349.79L431.72 352.53L428.68 352.53Z" fill="#98acdc"/><text x="439" y="353.61" class="lg">EG 250 μg/mL</text><path d="M425.7 362.29H434.7" stroke="#b82c2c" stroke-width="1.0"/><path d="M430.2 363.89L431.8 361.01L428.6 361.01Z" fill="#961616"/><text x="439" y="364.59" class="lg">COL 2 μg/mL+EG 250μg/mL</text><path d="M425.7 373.27H434.7" stroke="#cdcdcd" stroke-width="1.0"/><path d="M430.2 371.97L431.5 373.27L430.2 374.57L428.9 373.27Z" fill="#cdcdcd"/><text x="439" y="375.57" class="lg">CAZ/AVI 16/4 μg/mL</text></g>
<g><text x="566" y="197.8" class="lab">h</text><text x="655.4" y="203.8" class="ttl" text-anchor="middle"><tspan font-style="italic">K. pneumoniae</tspan> FK6696</text><path d="M594.5 214V295" fill="none" stroke="#222" stroke-width="1.05"/><path d="M594 294.5H715.9" fill="none" stroke="#222" stroke-width="1.05"/><path d="M591.5 294.5H594.5" stroke="#222" stroke-width="0.95"/><text x="590.7" y="296.6" class="tk" text-anchor="end">0</text><path d="M591.5 278.4H594.5" stroke="#222" stroke-width="0.95"/><text x="590.7" y="280.5" class="tk" text-anchor="end">3</text><path d="M591.5 262.3H594.5" stroke="#222" stroke-width="0.95"/><text x="590.7" y="264.4" class="tk" text-anchor="end">6</text><path d="M591.5 246.2H594.5" stroke="#222" stroke-width="0.95"/><text x="590.7" y="248.3" class="tk" text-anchor="end">9</text><path d="M591.5 230.1H594.5" stroke="#222" stroke-width="0.95"/><text x="590.7" y="232.2" class="tk" text-anchor="end">12</text><path d="M591.5 214H594.5" stroke="#222" stroke-width="0.95"/><text x="590.7" y="216.09" class="tk" text-anchor="end">15</text><path d="M594.9 294.5V297.7" stroke="#222" stroke-width="0.95"/><text x="594.9" y="304.9" class="tk" text-anchor="middle">0</text><path d="M615.07 294.5V297.7" stroke="#222" stroke-width="0.95"/><text x="615.07" y="304.9" class="tk" text-anchor="middle">4</text><path d="M635.23 294.5V297.7" stroke="#222" stroke-width="0.95"/><text x="635.23" y="304.9" class="tk" text-anchor="middle">8</text><path d="M655.4 294.5V297.7" stroke="#222" stroke-width="0.95"/><text x="655.4" y="304.9" class="tk" text-anchor="middle">12</text><path d="M675.57 294.5V297.7" stroke="#222" stroke-width="0.95"/><text x="675.57" y="304.9" class="tk" text-anchor="middle">16</text><path d="M695.73 294.5V297.7" stroke="#222" stroke-width="0.95"/><text x="695.73" y="304.9" class="tk" text-anchor="middle">20</text><path d="M715.9 294.5V297.7" stroke="#222" stroke-width="0.95"/><text x="715.9" y="304.9" class="tk" text-anchor="middle">24</text><text x="639.3" y="314.5" class="xl" letter-spacing="0.6">Time</text><text x="657.3" y="314.1" class="xp">(</text><text x="662.3" y="314.5" class="xl">h</text><text x="667.8" y="314.1" class="xp">)</text><text transform="translate(578.6 254.2) rotate(-90)" class="yl" text-anchor="middle">Log<tspan font-size="4.6" dy="1.1" stroke-width="0.1">10</tspan><tspan dy="-1.1"> CFU/mL</tspan></text><path d="M594.9 262.3 L604.98 264.44 L615.07 276.25 L625.15 278.94 L655.4 277.33 L715.9 294.5" fill="none" stroke="#cdcdcd" stroke-width="1.15" stroke-linejoin="round"/><path d="M594.9 261.26L595.94 262.3L594.9 263.34L593.86 262.3Z" fill="#cdcdcd"/><path d="M604.98 263.4L606.02 264.44L604.98 265.48L603.94 264.44Z" fill="#cdcdcd"/><path d="M615.07 275.21L616.11 276.25L615.07 277.29L614.03 276.25Z" fill="#cdcdcd"/><path d="M625.15 277.9L626.19 278.94L625.15 279.98L624.11 278.94Z" fill="#cdcdcd"/><path d="M655.4 276.29L656.44 277.33L655.4 278.37L654.36 277.33Z" fill="#cdcdcd"/><path d="M715.9 293.46L716.94 294.5L715.9 295.54L714.86 294.5Z" fill="#cdcdcd"/><path d="M594.9 262.3 L604.98 269.28 L615.07 261.76 L625.15 260.15 L655.4 256.39 L715.9 246.2" fill="none" stroke="#b82c2c" stroke-width="1.0" stroke-linejoin="round"/><path d="M594.9 264.22L596.82 260.76L592.98 260.76Z" fill="#961616"/><path d="M604.98 271.2L606.9 267.74L603.06 267.74Z" fill="#961616"/><path d="M615.07 263.68L616.99 260.23L613.15 260.23Z" fill="#961616"/><path d="M625.15 262.07L627.07 258.62L623.23 258.62Z" fill="#961616"/><path d="M655.4 258.31L657.32 254.86L653.48 254.86Z" fill="#961616"/><path d="M715.9 248.12L717.82 244.66L713.98 244.66Z" fill="#961616"/><path d="M594.9 262.3 L604.98 262.83 L615.07 250.49 L625.15 244.05 L655.4 244.59 L715.9 238.15" fill="none" stroke="#a6c4ea" stroke-width="1.0" stroke-linejoin="round"/><path d="M594.9 260.7L596.5 263.58L593.3 263.58Z" fill="#98acdc"/><path d="M604.98 261.23L606.58 264.11L603.38 264.11Z" fill="#98acdc"/><path d="M615.07 248.89L616.67 251.77L613.47 251.77Z" fill="#98acdc"/><path d="M625.15 242.45L626.75 245.33L623.55 245.33Z" fill="#98acdc"/><path d="M655.4 242.99L657 245.87L653.8 245.87Z" fill="#98acdc"/><path d="M715.9 236.55L717.5 239.43L714.3 239.43Z" fill="#98acdc"/><path d="M594.9 262.3 L604.98 259.08 L615.07 248.34 L625.15 243.78 L655.4 237.07 L715.9 231.97" fill="none" stroke="#2424c4" stroke-width="1.05" stroke-linejoin="round"/><rect x="593" y="260.4" width="3.8" height="3.8" fill="#2424c4"/><rect x="603.08" y="257.18" width="3.8" height="3.8" fill="#2424c4"/><rect x="613.17" y="246.44" width="3.8" height="3.8" fill="#2424c4"/><rect x="623.25" y="241.88" width="3.8" height="3.8" fill="#2424c4"/><rect x="653.5" y="235.17" width="3.8" height="3.8" fill="#2424c4"/><rect x="714" y="230.07" width="3.8" height="3.8" fill="#2424c4"/><path d="M594.9 262.3 L604.98 259.08 L615.07 248.34 L625.15 242.98 L655.4 236.27 L715.9 230.36" fill="none" stroke="#111111" stroke-width="1.0" stroke-linejoin="round"/><circle cx="594.9" cy="262.3" r="1.7" fill="#111111"/><circle cx="604.98" cy="259.08" r="1.7" fill="#111111"/><circle cx="615.07" cy="248.34" r="1.7" fill="#111111"/><circle cx="625.15" cy="242.98" r="1.7" fill="#111111"/><circle cx="655.4" cy="236.27" r="1.7" fill="#111111"/><circle cx="715.9" cy="230.36" r="1.7" fill="#111111"/><path d="M608.9 329.35H617.9" stroke="#111111" stroke-width="1.0"/><circle cx="613.4" cy="329.35" r="1.61" fill="#111111"/><text x="622.2" y="331.65" class="lg">Control</text><path d="M608.9 340.33H617.9" stroke="#2424c4" stroke-width="1.0"/><rect x="611.6" y="338.53" width="3.61" height="3.61" fill="#2424c4"/><text x="622.2" y="342.63" class="lg">COL 2 μg/mL</text><path d="M608.9 351.31H617.9" stroke="#a6c4ea" stroke-width="1.0"/><path d="M613.4 349.79L614.92 352.53L611.88 352.53Z" fill="#98acdc"/><text x="622.2" y="353.61" class="lg">EG 250 μg/mL</text><path d="M608.9 362.29H617.9" stroke="#b82c2c" stroke-width="1.0"/><path d="M613.4 363.89L615 361.01L611.8 361.01Z" fill="#961616"/><text x="622.2" y="364.59" class="lg">COL 2 μg/mL+EG 250μg/mL</text><path d="M608.9 373.27H617.9" stroke="#cdcdcd" stroke-width="1.0"/><path d="M613.4 371.97L614.7 373.27L613.4 374.57L612.1 373.27Z" fill="#cdcdcd"/><text x="622.2" y="375.57" class="lg">CAZ/AVI 16/4 μg/mL</text></g>
</svg></body></html>
